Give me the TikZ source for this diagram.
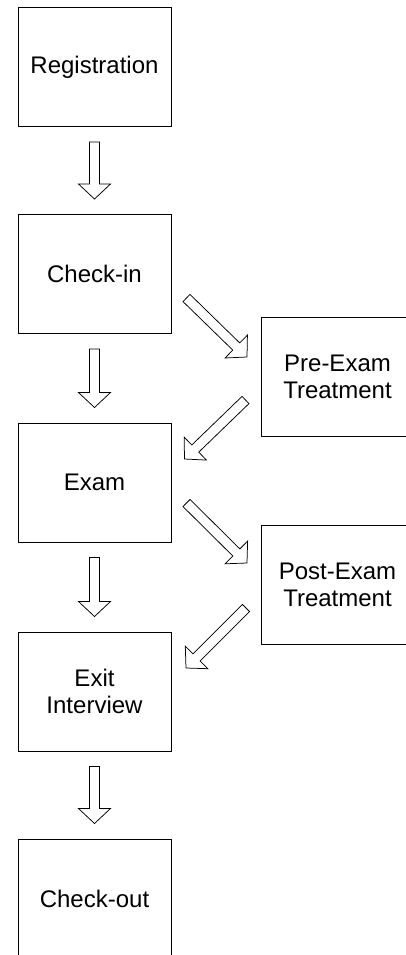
\documentclass[tikz,border=0pt]{standalone}
\usepackage{fontspec}
\setmainfont{Liberation Sans}
\usetikzlibrary{calc}

\newcommand{\shaftw}{5pt}
\newcommand{\headw}{16pt}
\newcommand{\headl}{15pt}

\begin{document}
\begin{tikzpicture}
[x=1pt,y=-1pt,
 boxDecorate/.style={shape=rectangle,draw,line width=1pt,inner sep=0pt,%
   minimum width=153pt,minimum height=119pt,align=center,%
   font=\fontsize{24}{27}\selectfont},
 arrowGap/.store in=\arrowgap, arrowGap=0pt,
 arrowDecorate/.style={draw,line width=0.75pt,fill=white,to path={%
   ($(\tikztostart)!\arrowgap!(\tikztotarget)!\shaftw!90:(\tikztotarget)$)
   -- ($(\tikztotarget)!\arrowgap!(\tikztostart)!\headl!(\tikztostart)!\shaftw!90:(\tikztotarget)$)
   -- ($(\tikztotarget)!\arrowgap!(\tikztostart)!\headl!(\tikztostart)!\headw!90:(\tikztotarget)$)
   -- ($(\tikztotarget)!\arrowgap!(\tikztostart)$)
   -- ($(\tikztotarget)!\arrowgap!(\tikztostart)!\headl!(\tikztostart)!\headw!-90:(\tikztotarget)$)
   -- ($(\tikztotarget)!\arrowgap!(\tikztostart)!\headl!(\tikztostart)!\shaftw!-90:(\tikztotarget)$)
   -- ($(\tikztostart)!\arrowgap!(\tikztotarget)!\shaftw!-90:(\tikztotarget)$)
   -- cycle}}]
\useasboundingbox (0,0) rectangle (406,955);
\clip (0,0) rectangle (406,955);
%% boxes
\foreach \nodename/\x/\y/\txt in {reg/94.5/67/Registration, chk/94.5/274/Check-in,
  ex/94.5/482.5/Exam, ei/94.5/691.5/{Exit\\Interview}, co/94.5/898.5/Check-out,
  pre/337.5/376.5/{Pre-Exam\\Treatment}, post/337.5/584.5/{Post-Exam\\Treatment}} {
  \node (\nodename) at (\x,\y) [boxDecorate] {\txt};
}
%% ends of the side arrows
\coordinate (chk-out) at (186.5,298);
\coordinate (pre-in) at (247,357);
\coordinate (pre-out) at (245.5,400);
\coordinate (ex-in) at (184.5,459);
\coordinate (ex-out) at (186.5,503);
\coordinate (post-in) at (247,563);
\coordinate (post-out) at (246,608);
\coordinate (ei-in) at (186,668);
%% arrows
\path
\foreach \startnode/\endnode in {reg/chk, chk/ex, ex/ei, ei/co} {
  (\startnode.south) edge[arrowDecorate,arrowGap=15pt] (\endnode.north)
}
\foreach \startnode/\endnode in {chk-out/pre-in, pre-out/ex-in, ex-out/post-in, post-out/ei-in} {
  (\startnode) edge[arrowDecorate] (\endnode)
};
\end{tikzpicture}
\end{document}
